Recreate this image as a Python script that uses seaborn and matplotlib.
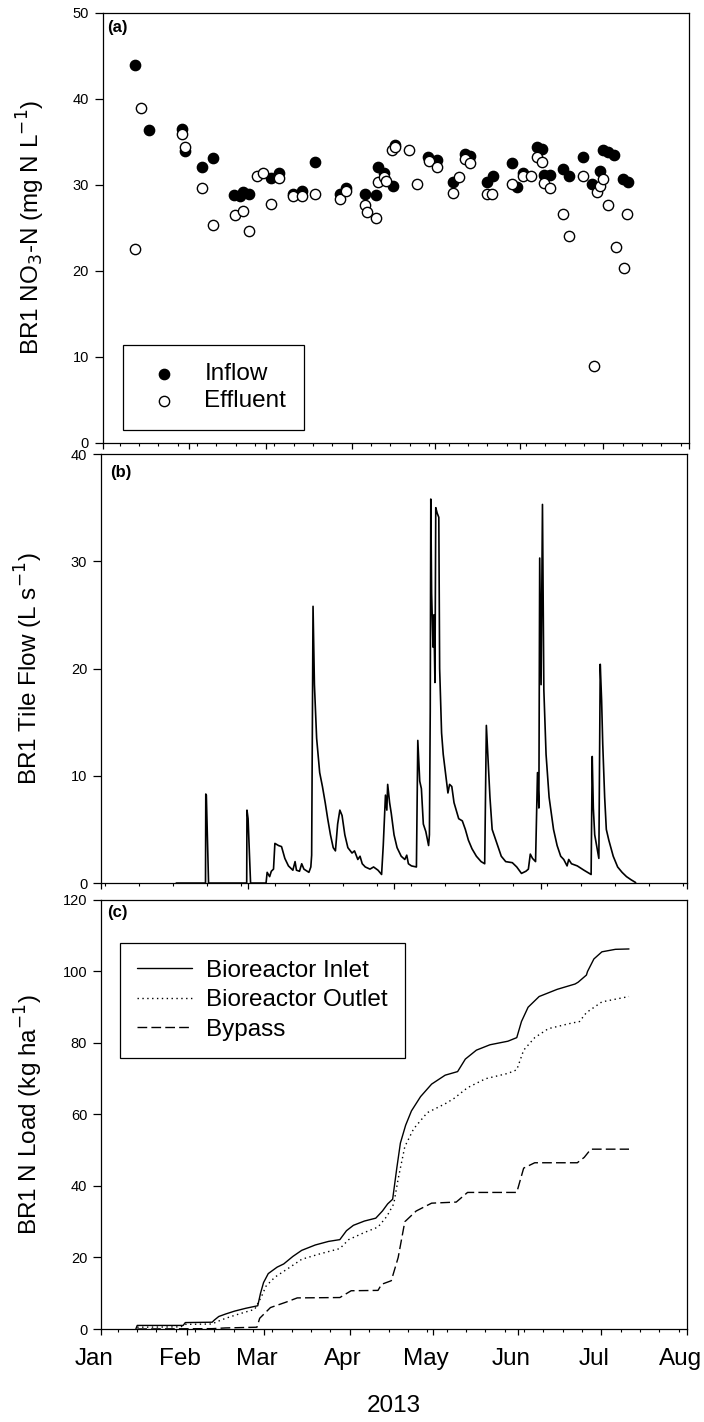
# BR1 bioreactor: nitrate, tile flow and cumulative N load, Jan-Aug 2013
import numpy as np
import pandas as pd
import seaborn as sns
import matplotlib.pyplot as plt
import matplotlib.dates as mdates
from matplotlib.ticker import FixedLocator, NullFormatter
from matplotlib.transforms import ScaledTranslation

sns.set_style("ticks")
plt.rcParams["font.family"] = ["Liberation Sans", "DejaVu Sans"]
for key in ("text.color", "axes.labelcolor", "xtick.color", "ytick.color"):
    plt.rcParams[key] = "black"

start = pd.Timestamp("2013-01-01")

# (a) nitrate concentration, day offsets from Jan 1
inflow_day = [11.6, 16.6, 28.7, 29.8, 35.8, 39.7, 47.4, 49.5, 50.8, 53.0, 60.7, 63.7,
              68.9, 71.9, 76.8, 85.7, 87.8, 94.8, 98.8, 99.6, 101.7, 104.8, 105.6,
              117.7, 120.7, 126.5, 131.0, 132.8, 139.0, 141.0, 147.8, 149.9, 151.8,
              156.9, 158.9, 159.5, 161.7, 166.5, 168.7, 173.8, 176.8, 179.8, 180.8,
              182.8, 184.9, 188.0, 189.8]
inflow_no3 = [44.0, 36.4, 36.5, 34.0, 32.1, 33.1, 28.8, 28.7, 29.2, 29.0, 30.8, 31.4,
              28.9, 29.3, 32.7, 28.9, 29.7, 29.0, 28.8, 32.1, 31.4, 29.9, 34.7,
              33.2, 32.9, 30.4, 33.6, 33.4, 30.4, 31.0, 32.5, 29.8, 31.4,
              34.4, 34.2, 31.2, 31.2, 31.9, 31.0, 33.3, 30.1, 31.6, 34.1,
              33.8, 33.5, 30.7, 30.4]
effluent_day = [11.7, 13.7, 28.7, 29.8, 35.8, 39.7, 47.6, 50.8, 52.8, 55.6, 57.8, 60.7,
                63.7, 68.6, 71.9, 76.8, 85.7, 87.8, 94.8, 95.6, 98.8, 99.6, 101.7, 102.5,
                104.7, 105.6, 110.8, 113.7, 117.9, 120.7, 126.7, 128.8, 131.0, 132.8,
                138.8, 140.8, 147.8, 151.8, 154.8, 156.9, 158.9, 159.5, 161.7, 166.5,
                168.7, 173.8, 177.5, 178.6, 179.8, 180.8, 182.8, 185.5, 188.4, 189.7]
effluent_no3 = [22.6, 39.0, 35.9, 34.4, 29.7, 25.3, 26.5, 27.0, 24.6, 31.0, 31.4, 27.8,
                30.8, 28.7, 28.7, 29.0, 28.4, 29.3, 27.7, 26.9, 26.2, 30.3, 30.9, 30.5,
                34.1, 34.4, 34.1, 30.1, 32.8, 32.1, 29.1, 30.9, 33.0, 32.5,
                29.0, 29.0, 30.1, 31.0, 31.0, 33.3, 32.7, 30.2, 29.7, 26.6,
                24.1, 31.0, 9.0, 29.2, 29.9, 30.7, 27.7, 22.8, 20.4, 26.6]

# (b) tile flow
flow_day = [27.2, 37.8, 37.9, 38.1, 38.9, 52.7, 52.8, 53.2, 54.1, 59.7, 60.1, 61.0, 61.6,
            62.4, 62.9, 64.2, 65.3, 66.5, 67.8, 69.4, 70.2, 70.7, 71.8, 72.6, 73.4, 75.2,
            75.9, 76.2, 76.7, 77.2, 78.0, 79.1, 80.1, 81.1, 82.0, 83.0, 84.0, 84.8, 85.6,
            86.4, 87.2, 88.2, 89.3, 90.8, 91.7, 92.9, 93.7, 94.5, 95.6, 97.3, 98.6, 100.2,
            101.5, 102.1, 102.9, 103.4, 103.7, 104.4, 105.0, 106.0, 107.1, 108.6, 109.9,
            110.6, 111.2, 112.3, 114.1, 114.6, 115.3, 115.9, 116.6, 117.5, 118.5, 118.8,
            119.1, 119.3, 119.6, 120.1, 120.4, 120.8, 121.1, 121.6, 122.2, 122.5, 123.2,
            123.8, 124.5, 125.5, 126.1, 126.9, 127.7, 129.4, 130.7, 131.8, 132.9, 134.2,
            135.8, 137.5, 138.8, 139.4, 140.1, 140.7, 141.5, 143.1, 144.8, 146.4, 148.8,
            150.4, 152.1, 153.7, 154.6, 155.3, 156.1, 157.2, 157.9, 158.4, 158.7, 159.2,
            159.7, 160.2, 161.0, 162.1, 163.7, 165.0, 166.3, 167.4, 168.6, 169.2, 170.2,
            172.3, 174.7, 176.7, 177.3, 177.7, 178.1, 178.6, 179.3, 180.1, 180.6, 181.1,
            181.5, 182.2, 182.8, 183.7, 185.3, 186.9, 188.5, 190.1, 191.8, 193.4]
flow_lps = [0.0, 0.0, 8.3, 8.2, 0.0, 0.0, 6.8, 6.0, 0.0, 0.0, 1.0, 0.6, 1.1,
            1.3, 3.7, 3.5, 3.4, 2.3, 1.6, 1.2, 2.0, 1.2, 1.1, 1.8, 1.3, 1.0,
            1.5, 2.6, 25.8, 18.5, 13.5, 10.3, 9.0, 7.5, 6.0, 4.5, 3.3, 3.0, 5.5,
            6.8, 6.3, 4.5, 3.3, 2.8, 3.0, 2.2, 2.5, 1.8, 1.5, 1.3, 1.5, 1.2,
            0.8, 3.5, 8.2, 6.8, 9.2, 7.5, 6.5, 4.5, 3.3, 2.5, 2.2,
            2.6, 1.8, 1.6, 1.5, 13.3, 9.5, 8.8, 5.5, 4.8, 3.5, 4.5,
            16.0, 35.8, 27.0, 22.0, 25.0, 18.7, 35.0, 34.5, 34.1, 20.0, 14.0,
            12.0, 10.5, 8.4, 9.2, 9.0, 7.5, 6.0, 5.8, 5.0, 4.0, 3.2,
            2.5, 2.0, 1.8, 14.7, 11.0, 8.0, 5.0, 3.8, 2.5, 2.0, 1.9,
            1.5, 0.9, 1.1, 1.3, 2.7, 2.3, 2.0, 10.3, 7.0, 30.3, 18.5,
            35.3, 18.0, 12.0, 8.0, 5.0, 3.5, 2.5, 2.2, 1.6, 2.2, 1.8,
            1.6, 1.2, 0.9, 0.8, 11.8, 7.0, 4.5, 3.5, 2.3, 20.4, 17.0,
            13.0, 8.0, 5.0, 4.0, 2.5, 1.5, 1.0, 0.6, 0.3, 0.05]

# (c) cumulative N load
inlet_day = [12.6, 13.1, 29.7, 30.5, 40.2, 41.0, 42.6, 45.1, 48.3, 52.4, 56.7, 57.7, 58.8,
             60.5, 63.7, 66.1, 69.4, 72.6, 77.5, 82.3, 86.4, 88.8, 91.3, 95.3, 99.4, 101.8,
             103.7, 105.5, 107.0, 108.3, 110.2, 112.3, 115.6, 119.6, 124.5, 129.0, 131.8,
             135.8, 140.7, 147.2, 150.4, 152.1, 154.5, 158.5, 165.0, 171.5, 172.6, 175.6,
             176.0, 178.3, 181.2, 186.1, 191.0]
inlet_load = [0.0, 1.0, 1.0, 1.8, 1.9, 2.5, 3.5, 4.2, 5.0, 5.8, 6.5, 10.0, 13.0,
              15.5, 17.3, 18.2, 20.3, 22.0, 23.5, 24.5, 25.0, 27.5, 29.0, 30.2, 31.0, 33.0,
              35.0, 36.3, 45.0, 52.0, 57.0, 61.0, 65.0, 68.5, 71.0, 72.0, 75.5,
              78.0, 79.5, 80.5, 81.5, 86.0, 90.0, 93.0, 95.0, 96.5, 97.0, 99.0,
              100.0, 103.5, 105.5, 106.2, 106.3]
outlet_day = [13.1, 28.9, 30.5, 40.2, 41.8, 45.1, 49.9, 55.6, 58.0, 59.7, 62.9, 67.8, 72.6,
              79.1, 86.4, 89.6, 95.3, 100.2, 103.4, 105.9, 107.5, 109.9, 113.1, 118.0,
              124.5, 127.7, 132.6, 139.1, 147.2, 150.4, 152.9, 156.9, 161.8, 169.9, 173.1,
              175.6, 181.2, 191.0]
outlet_load = [0.5, 0.6, 1.3, 1.4, 2.0, 3.0, 4.2, 5.5, 9.0, 12.0, 14.5, 17.0, 19.5,
               21.0, 22.5, 25.0, 27.0, 28.5, 31.5, 35.0, 42.0, 51.0, 56.0, 60.5,
               63.0, 64.5, 67.5, 70.0, 71.5, 72.5, 78.0, 81.5, 84.0, 85.5, 86.0,
               88.5, 91.5, 93.0]
bypass_day = [13.1, 40.2, 45.1, 56.4, 57.4, 61.3, 66.9, 71.0, 86.4, 90.5, 100.2, 101.5,
              105.0, 107.5, 109.9, 114.0, 119.6, 128.5, 132.6, 150.4, 152.9, 156.9, 172.3,
              174.8, 177.2, 191.0]
bypass_load = [0.0, 0.1, 0.3, 0.5, 3.0, 6.0, 7.5, 8.7, 8.8, 10.7, 10.8, 12.5,
               13.5, 20.0, 30.0, 33.0, 35.2, 35.5, 38.2, 38.2, 45.0, 46.5, 46.5,
               48.0, 50.3, 50.3]


def to_dates(days):
    return start + pd.to_timedelta(np.asarray(days), unit="D")


fig = plt.figure(figsize=(7.04, 14.22), dpi=100)
ax_a = fig.add_axes([0.1463, 0.6885, 0.8324, 0.3024])
ax_b = fig.add_axes([0.1435, 0.3790, 0.8324, 0.3017])
ax_c = fig.add_axes([0.1435, 0.0654, 0.8324, 0.3017])

big = 17.5
small = 10.5

sns.scatterplot(x=to_dates(inflow_day), y=inflow_no3, ax=ax_a, color="black",
                edgecolor="black", s=55, linewidth=1, label="Inflow", zorder=3)
sns.scatterplot(x=to_dates(effluent_day), y=effluent_no3, ax=ax_a, color="white",
                edgecolor="black", s=55, linewidth=1, label="Effluent", zorder=4)

sns.lineplot(x=to_dates(flow_day), y=flow_lps, ax=ax_b, color="black", lw=1.2,
             estimator=None)

sns.lineplot(x=to_dates(inlet_day), y=inlet_load, ax=ax_c, color="black", lw=1.0,
             estimator=None, label="Bioreactor Inlet")
sns.lineplot(x=to_dates(outlet_day), y=outlet_load, ax=ax_c, color="black", lw=1.0,
             estimator=None, label="Bioreactor Outlet", linestyle=(0, (1, 2.5)))
sns.lineplot(x=to_dates(bypass_day), y=bypass_load, ax=ax_c, color="black", lw=1.0,
             estimator=None, label="Bypass", linestyle=(0, (7, 3)))

x0, x1 = pd.Timestamp("2013-01-01"), pd.Timestamp("2013-08-01")
for ax in (ax_a, ax_b, ax_c):
    ax.set_xlim(x0, x1)
    for sp in ax.spines.values():
        sp.set_linewidth(0.9)
        sp.set_color("black")
    ax.tick_params(axis="y", which="major", direction="out", length=5.5, width=0.9,
                   labelsize=small, pad=4.5, right=False)
    ax.tick_params(axis="x", which="major", direction="out", length=4.5, width=0.9,
                   top=False)
    ax.tick_params(axis="x", which="minor", direction="out", length=2.5, width=0.8,
                   top=False)

for ax in (ax_a, ax_c):
    ax.xaxis.set_major_locator(mdates.MonthLocator())
    ax.xaxis.set_minor_locator(mdates.WeekdayLocator(byweekday=mdates.MO))

n0, n1 = mdates.date2num(x0), mdates.date2num(x1)
ax_b.xaxis.set_major_locator(FixedLocator(np.linspace(n0, n1, 5)))
ax_b.xaxis.set_minor_locator(FixedLocator(np.arange(n0 + 1.45, n1, 12.3)))
ax_a.xaxis.set_major_formatter(NullFormatter())
ax_b.xaxis.set_major_formatter(NullFormatter())

ax_c.xaxis.set_major_formatter(mdates.DateFormatter("%b"))
ax_c.tick_params(axis="x", which="major", labelsize=big, pad=9)
for lab in ax_c.get_xticklabels():
    lab.set_transform(lab.get_transform() + ScaledTranslation(-0.07, 0, fig.dpi_scale_trans))

ax_a.set_ylim(0, 50)
ax_a.set_yticks(range(0, 51, 10))
ax_b.set_ylim(0, 40)
ax_b.set_yticks(range(0, 41, 10))
ax_c.set_ylim(0, 120)
ax_c.set_yticks(range(0, 121, 20))

ax_a.set_ylabel("BR1 NO$_3$-N (mg N L$^{-1}$)", fontsize=big)
ax_b.set_ylabel("BR1 Tile Flow (L s$^{-1}$)", fontsize=big)
ax_c.set_ylabel("BR1 N Load (kg ha$^{-1}$)", fontsize=big)
for ax in (ax_a, ax_b, ax_c):
    ax.yaxis.set_label_coords(-0.095, 0.5)
ax_a.set_xlabel("")
ax_b.set_xlabel("")
ax_c.set_xlabel("2013", fontsize=big)
ax_c.xaxis.set_label_coords(0.5, -0.154)

ax_a.text(0.007, 0.983, "(a)", transform=ax_a.transAxes, ha="left", va="top",
          fontsize=12, fontweight="bold")
ax_b.text(0.015, 0.975, "(b)", transform=ax_b.transAxes, ha="left", va="top",
          fontsize=12, fontweight="bold")
ax_c.text(0.010, 0.988, "(c)", transform=ax_c.transAxes, ha="left", va="top",
          fontsize=12, fontweight="bold")

leg_a = ax_a.legend(loc="upper left", bbox_to_anchor=(0.034, 0.228), borderaxespad=0,
                    fontsize=big, frameon=True, fancybox=False, edgecolor="black",
                    borderpad=0.75, handlelength=1.9, handletextpad=0.7,
                    labelspacing=0.2, framealpha=1)
leg_a.get_frame().set_linewidth(0.9)

leg_c = ax_c.legend(loc="upper left", bbox_to_anchor=(0.0324, 0.8998), borderaxespad=0,
                    fontsize=big, frameon=True, fancybox=False, edgecolor="black",
                    borderpad=0.7, handlelength=2.25, handletextpad=0.6,
                    labelspacing=0.3, framealpha=1)
leg_c.get_frame().set_linewidth(0.9)

fig.savefig("out.png", dpi=100)
